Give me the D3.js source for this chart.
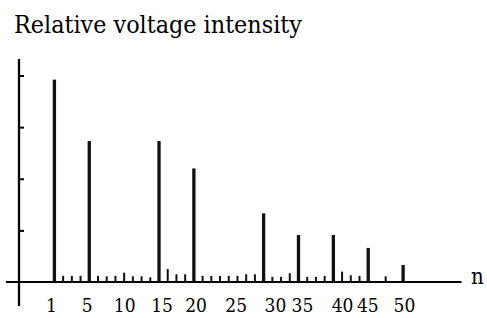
<!DOCTYPE html>
<html>
<head>
<meta charset="utf-8">
<script src="https://cdn.jsdelivr.net/npm/d3@7"></script>
<style>
  html, body { margin: 0; padding: 0; background: #fff; }
</style>
</head>
<body>
<svg id="chart" width="487" height="318"></svg>
<script>
// bar slots (evenly spaced positions along the n axis) and their heights (in y-tick units)
const barSlots = [0, 1, 2, 3, 4, 5, 6, 7, 8, 9, 10, 11, 12, 13, 14, 15, 16, 17, 18, 19,
  20, 21, 22, 23, 24, 25, 26, 27, 28, 29, 30, 31, 32, 33, 34, 35, 36, 38, 40];
const barValues = [3.92, 0.12, 0.12, 0.12, 2.73, 0.12, 0.11, 0.12, 0.18, 0.11, 0.11, 0.09,
  2.73, 0.25, 0.15, 0.15, 2.20, 0.12, 0.12, 0.12, 0.12, 0.12, 0.15, 0.15, 1.33, 0.10,
  0.10, 0.17, 0.91, 0.10, 0.10, 0.12, 0.91, 0.20, 0.13, 0.12, 0.66, 0.11, 0.33];

// x tick labels and where they sit (in slot units)
const tickLabels = ["1", "5", "10", "15", "20", "25", "30", "35", "40", "45", "50"];
const tickPos = [-0.4, 3.7, 8, 12.3, 16.2, 20.8, 25.3, 28.4, 33, 35.9, 40.1];
const yTicks = [1, 2, 3, 4];

const serif = "'DejaVu Serif Condensed', 'DejaVu Serif', serif";
const svg = d3.select("#chart").style("font-family", serif);

const x = d3.scaleLinear().domain([0, 40]).range([54.4, 403.1]);
const y = d3.scaleLinear().domain([0, 4.32]).range([282, 59]);

const axisX = 19;

// title, sized so it spans the same width as in the figure
const title = svg.append("text")
  .attr("x", 14)
  .attr("y", 33)
  .style("font-family", serif)
  .style("font-stretch", "condensed")
  .attr("font-size", 24)
  .attr("fill", "#000")
  .text("Relative voltage intensity");
const tw = title.node().getComputedTextLength();
title.attr("font-size", 24 * 288 / tw);

// y axis line (runs a bit below the baseline)
svg.append("line")
  .attr("x1", axisX).attr("x2", axisX)
  .attr("y1", y(4.32)).attr("y2", 306)
  .attr("stroke", "#000").attr("stroke-width", 2.3);

// y ticks, pointing inward, no labels
const gy = svg.append("g")
  .attr("transform", `translate(${axisX},0)`)
  .call(d3.axisRight(y).tickValues(yTicks).tickSize(5).tickFormat(""));
gy.select(".domain").remove();
gy.selectAll(".tick line").attr("stroke", "#000").attr("stroke-width", 2);

// x baseline
svg.append("line")
  .attr("x1", 6).attr("x2", 461.5)
  .attr("y1", y(0)).attr("y2", y(0))
  .attr("stroke", "#000").attr("stroke-width", 2);

// x tick labels
const gx = svg.append("g")
  .attr("transform", `translate(0,${y(0)})`)
  .call(d3.axisBottom(x).tickValues(tickPos).tickSize(0).tickPadding(17)
    .tickFormat((d, i) => tickLabels[i]));
gx.select(".domain").remove();
gx.selectAll("text")
  .style("font-family", serif)
  .style("font-stretch", "condensed")
  .style("font-size", "19px")
  .attr("fill", "#000");

// axis name
svg.append("text")
  .attr("x", 471)
  .attr("y", 284)
  .style("font-family", serif)
  .style("font-stretch", "condensed")
  .attr("font-size", 22)
  .attr("fill", "#000")
  .text("n");

// bars
const bars = barSlots.map((s, i) => ({ slot: s, v: barValues[i] }));
svg.append("g")
  .selectAll("rect")
  .data(bars)
  .join("rect")
    .attr("x", d => x(d.slot) - (d.v > 0.3 ? 1.65 : 1))
    .attr("width", d => (d.v > 0.3 ? 3.3 : 2))
    .attr("y", d => y(d.v))
    .attr("height", d => y(0) - y(d.v))
    .attr("fill", "#111");
</script>
</body>
</html>
